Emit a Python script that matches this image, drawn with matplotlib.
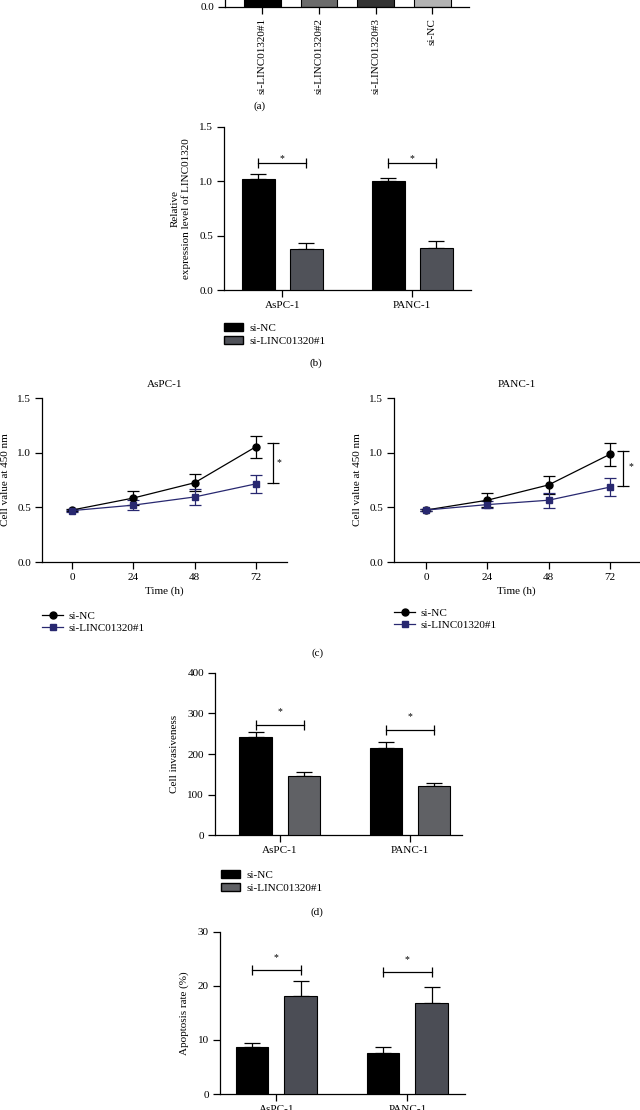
import matplotlib
matplotlib.use('Agg')
import matplotlib.pyplot as plt
from matplotlib.lines import Line2D
from matplotlib.patches import Patch
import numpy as np

plt.rcParams['font.family'] = ['Liberation Serif', 'DejaVu Serif']
plt.rcParams['font.size'] = 8

W, H = 640, 1110
FS = 8

# ---- data ----
# (a) knockdown screen (bar tops lie above the cropped area)
a_labels = ['si-LINC01320#1', 'si-LINC01320#2', 'si-LINC01320#3', 'si-NC']
a_values = [0.35, 0.6, 0.55, 1.0]
a_colors = ['#000000', '#6b6b6b', '#333333', '#b3b3b3']

cells = ['AsPC-1', 'PANC-1']
groups = ['si-NC', 'si-LINC01320#1']

# (b) relative expression
b_nc = [1.02, 1.00]
b_nc_err = [0.05, 0.03]
b_kd = [0.38, 0.39]
b_kd_err = [0.05, 0.065]

# (c) CCK-8 growth curves
times = [0, 24, 48, 72]
c_aspc_nc = [0.475, 0.585, 0.725, 1.055]
c_aspc_nc_err = [0.01, 0.065, 0.08, 0.10]
c_aspc_kd = [0.47, 0.52, 0.595, 0.715]
c_aspc_kd_err = [0.01, 0.045, 0.07, 0.085]
c_panc_nc = [0.475, 0.565, 0.705, 0.985]
c_panc_nc_err = [0.01, 0.065, 0.08, 0.105]
c_panc_kd = [0.475, 0.525, 0.565, 0.685]
c_panc_kd_err = [0.01, 0.03, 0.07, 0.085]

# (d) invasion
d_nc = [241, 214]
d_nc_err = [14, 16]
d_kd = [146, 121]
d_kd_err = [9, 8]

# (e) apoptosis
e_nc = [8.6, 7.5]
e_nc_err = [0.9, 1.2]
e_kd = [18.1, 16.8]
e_kd_err = [2.7, 3.0]

NAVY = '#282870'


def px_axes(fig, left, right, top, bottom):
    """Axes placed by pixel edges (origin top-left)."""
    return fig.add_axes([left / W, 1 - bottom / H, (right - left) / W, (bottom - top) / H])


def style(ax):
    for s in ('top', 'right'):
        ax.spines[s].set_visible(False)
    for s in ('left', 'bottom'):
        ax.spines[s].set_linewidth(0.9)
    ax.tick_params(direction='out', length=5, width=0.9, labelsize=FS, pad=3)


def bar_panel(ax, nc, nc_err, kd, kd_err, kd_color, ymax, yticks, ylabel, xlim):
    style(ax)
    x = np.arange(len(cells))
    off, w = 0.185, 0.25
    ax.bar(x - off, nc, w, color='black', edgecolor='black', lw=0.8, zorder=3)
    ax.bar(x + off, kd, w, color=kd_color, edgecolor='black', lw=0.8, zorder=3)
    ax.errorbar(x - off, nc, yerr=[np.zeros(len(nc)), nc_err], fmt='none',
                ecolor='black', elinewidth=0.9, capsize=6, capthick=0.9, zorder=2)
    ax.errorbar(x + off, kd, yerr=[np.zeros(len(kd)), kd_err], fmt='none',
                ecolor='black', elinewidth=0.9, capsize=6, capthick=0.9, zorder=2)
    ax.set_xlim(*xlim)
    ax.set_ylim(0, ymax)
    ax.set_yticks(yticks)
    ax.set_xticks(x)
    ax.set_xticklabels(cells)
    ax.set_ylabel(ylabel, fontsize=FS, labelpad=6)
    return x, off


def bracket(ax, x1, x2, y, star_y):
    ax.plot([x1, x2], [y, y], color='black', lw=0.9)
    ax.plot([x1, x2], [y, y], ls='none', marker='|', ms=7, mew=0.9, color='black')
    ax.text((x1 + x2) / 2, star_y, '*', ha='center', va='center', fontsize=7)


def line_panel(ax, title, nc, nc_err, kd, kd_err, xlim, br_x, br_lo, br_hi, star):
    style(ax)
    ax.errorbar(times, nc, yerr=nc_err, color='black', lw=0.9, marker='o', ms=5,
                capsize=4, elinewidth=0.9, capthick=0.9, zorder=3)
    ax.errorbar(times, kd, yerr=kd_err, color=NAVY, lw=0.9, marker='s', ms=4.5,
                capsize=4, elinewidth=0.9, capthick=0.9, zorder=3)
    ax.plot([br_x, br_x], [br_lo, br_hi], color='black', lw=0.9, clip_on=False)
    ax.plot([br_x, br_x], [br_lo, br_hi], ls='none', marker='_', ms=8, mew=0.9,
            color='black', clip_on=False)
    ax.text(star[0], star[1], '*', ha='center', va='center', fontsize=7)
    ax.set_xlim(*xlim)
    ax.set_ylim(0, 1.5)
    ax.set_xticks(times)
    ax.set_yticks([0.0, 0.5, 1.0, 1.5])
    ax.set_yticklabels(['0.0', '0.5', '1.0', '1.5'])
    ax.set_title(title, fontsize=FS, pad=8)
    ax.set_xlabel('Time (h)', fontsize=FS, labelpad=3)
    ax.set_ylabel('Cell value at 450 nm', fontsize=FS, labelpad=5)


fig = plt.figure(figsize=(W / 100, H / 100), dpi=100)
fig.patch.set_facecolor('white')

# ---- (a) ----
ax_a = px_axes(fig, 225, 469, -153, 7)
style(ax_a)
xa = np.arange(len(a_labels))
ax_a.bar(xa, a_values, 0.65, color=a_colors, edgecolor='black', lw=0.8)
ax_a.set_xlim(-0.66, 3.65)
ax_a.set_ylim(0, 1.5)
ax_a.set_yticks([0.0])
ax_a.set_yticklabels(['0.0'])
ax_a.set_xticks(xa)
ax_a.set_xticklabels(a_labels, rotation=90)
fig.text(260 / W, 1 - 106 / H, '(a)', ha='center', va='center', fontsize=FS)

# ---- (b) ----
ax_b = px_axes(fig, 224, 471, 127, 290)
x, off = bar_panel(ax_b, b_nc, b_nc_err, b_kd, b_kd_err, '#505259', 1.5,
                   [0.0, 0.5, 1.0, 1.5], 'Relative\nexpression level of LINC01320',
                   (-0.45, 1.452))
ax_b.set_yticklabels(['0.0', '0.5', '1.0', '1.5'])
for i in range(2):
    bracket(ax_b, x[i] - off, x[i] + off, 1.17, 1.21)
fig.legend(handles=[Patch(facecolor='black', edgecolor='black', label=groups[0]),
                    Patch(facecolor='#505259', edgecolor='black', label=groups[1])],
           loc='upper left', bbox_to_anchor=(224 / W, 1 - 323 / H), frameon=False,
           borderpad=0, borderaxespad=0, handlelength=1.7, handleheight=0.75,
           handletextpad=0.6, labelspacing=0.25, fontsize=FS)
fig.text(316 / W, 1 - 363 / H, '(b)', ha='center', va='center', fontsize=FS)

# ---- (c) ----
ax_c1 = px_axes(fig, 42, 287, 398, 562)
line_panel(ax_c1, cells[0], c_aspc_nc, c_aspc_nc_err, c_aspc_kd, c_aspc_kd_err,
           (-11.7, 84.1), 78.7, 0.72, 1.09, (81.0, 0.91))
ax_c2 = px_axes(fig, 394, 639, 398, 562)
line_panel(ax_c2, cells[1], c_panc_nc, c_panc_nc_err, c_panc_kd, c_panc_kd_err,
           (-12.5, 83.4), 77.1, 0.695, 1.015, (80.2, 0.87))
line_handles = [Line2D([], [], color='black', lw=0.9, marker='o', ms=5, label=groups[0]),
                Line2D([], [], color=NAVY, lw=0.9, marker='s', ms=4.5, label=groups[1])]
for lx, ly in ((42, 611), (394, 608)):
    fig.legend(handles=line_handles, loc='upper left', bbox_to_anchor=(lx / W, 1 - ly / H),
               frameon=False, borderpad=0, borderaxespad=0, handlelength=1.9,
               handletextpad=0.5, labelspacing=0.2, fontsize=FS)
fig.text(318 / W, 1 - 653 / H, '(c)', ha='center', va='center', fontsize=FS)

# ---- (d) ----
ax_d = px_axes(fig, 215, 462, 672.7, 835.3)
x, off = bar_panel(ax_d, d_nc, d_nc_err, d_kd, d_kd_err, '#606165', 400,
                   [0, 100, 200, 300, 400], 'Cell invasiveness', (-0.498, 1.40))
bracket(ax_d, x[0] - off, x[0] + off, 271, 304)
bracket(ax_d, x[1] - off, x[1] + off, 260, 292)
fig.legend(handles=[Patch(facecolor='black', edgecolor='black', label=groups[0]),
                    Patch(facecolor='#606165', edgecolor='black', label=groups[1])],
           loc='upper left', bbox_to_anchor=(221 / W, 1 - 870 / H), frameon=False,
           borderpad=0, borderaxespad=0, handlelength=1.7, handleheight=0.75,
           handletextpad=0.6, labelspacing=0.25, fontsize=FS)
fig.text(317 / W, 1 - 912 / H, '(d)', ha='center', va='center', fontsize=FS)

# ---- (e) ----
ax_e = px_axes(fig, 220, 465, 931.7, 1094)
x, off = bar_panel(ax_e, e_nc, e_nc_err, e_kd, e_kd_err, '#4b4d55', 30,
                   [0, 10, 20, 30], 'Apoptosis rate (%)', (-0.43, 1.44))
bracket(ax_e, x[0] - off, x[0] + off, 23.0, 25.3)
bracket(ax_e, x[1] - off, x[1] + off, 22.6, 24.9)

fig.savefig('out.png', dpi=100, facecolor='white')
